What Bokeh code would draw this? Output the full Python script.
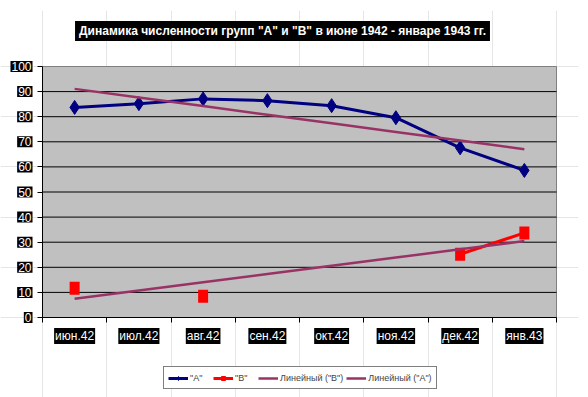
import numpy as np
from bokeh.plotting import figure
from bokeh.models import Range1d, FixedTicker, Label, Legend, LegendItem, LinearAxis
from bokeh.embed import file_html
from bokeh.resources import INLINE

# ---- data ----
months = ["июн.42", "июл.42", "авг.42", "сен.42", "окт.42", "ноя.42", "дек.42", "янв.43"]
group_a = [83.7, 85.2, 87.1, 86.4, 84.4, 79.6, 67.6, 58.6]
group_b = [11.7, np.nan, 8.5, np.nan, np.nan, np.nan, 25.2, 33.7]
y_ticks = [0, 10, 20, 30, 40, 50, 60, 70, 80, 90, 100]
title_text = 'Динамика численности групп "А" и "В" в июне 1942 - январе 1943 гг.'

FONT = "Liberation Sans"

n = len(months)
xs = np.arange(n) + 0.5
xi = np.arange(1, n + 1)

# linear trend lines (least squares, as Excel does)
a_arr = np.array(group_a, dtype=float)
b_arr = np.array(group_b, dtype=float)
ka = np.polyfit(xi, a_arr, 1)
mb = ~np.isnan(b_arr)
kb = np.polyfit(xi[mb], b_arr[mb], 1)
trend_a = np.polyval(ka, xi)
trend_b = np.polyval(kb, xi)

# ---- layout (canvas pixels) ----
W, H = 588, 397
BORDER_R, BORDER_T = 10, 10
PL, PR, PT, PB = 42, 556, 66, 317          # plot area in canvas pixels
FW, FH = W - BORDER_R, H - BORDER_T         # frame size
ux = (PR - PL) / n
uy = (PB - PT) / (y_ticks[-1] - y_ticks[0])
x_rng = Range1d(-PL / ux, n + (FW - PR) / ux)
y_rng = Range1d(y_ticks[0] - (H - PB) / uy, y_ticks[-1] + (PT - BORDER_T) / uy)

p = figure(width=W, height=H, output_backend="svg", toolbar_location=None,
           x_range=x_rng, y_range=y_rng, x_axis_location=None, y_axis_location=None,
           min_border_left=0, min_border_bottom=0,
           min_border_right=BORDER_R, min_border_top=BORDER_T)
p.background_fill_color = "white"
p.border_fill_color = "white"
p.outline_line_color = None

# plot area background and grid lines
p.quad(left=0, right=n, bottom=y_ticks[0], top=y_ticks[-1],
       fill_color="#c0c0c0", line_color="#808080", line_width=1)
gy = y_ticks[1:-1]
p.segment(x0=[0] * len(gy), x1=[n] * len(gy), y0=gy, y1=gy, line_color="black", line_width=1)

# axes (library axes fixed at the plot-area edges)
yax = LinearAxis(fixed_location=0, ticker=FixedTicker(ticks=y_ticks), bounds=(y_ticks[0], y_ticks[-1]))
xax = LinearAxis(fixed_location=0, ticker=FixedTicker(ticks=list(range(n + 1))), bounds=(0, n))
for ax in (xax, yax):
    ax.major_tick_in = 5
    ax.major_tick_out = 0
    ax.minor_tick_line_color = None
    ax.axis_line_color = "black"
    ax.major_tick_line_color = "black"
    ax.major_label_text_font_size = "0px"
    ax.major_label_standoff = 0
yax.major_label_overrides = {t: "" for t in y_ticks}
xax.major_label_overrides = {t: "" for t in range(n + 1)}
p.add_layout(yax, "right")
p.add_layout(xax, "above")

# series A
ra = p.line(xs, group_a, line_color="#000080", line_width=3)
ra_m = p.scatter(xs, group_a, marker="diamond", size=14, fill_color="#000080", line_color="#000080")
# series B
rb = p.line(xs, group_b, line_color="#ff0000", line_width=3)
rb_leg = p.scatter(xs, group_b, marker="square", size=7, fill_color="#ff0000", line_color="#ff0000")
p.rect(xs, group_b, width=10, height=13, width_units="screen", height_units="screen",
       fill_color="#ff0000", line_color=None)
# trend lines
tb = p.line(xs, trend_b, line_color="#993366", line_width=2.5)
ta = p.line(xs, trend_a, line_color="#993366", line_width=2.5)

legend = Legend(items=[
    LegendItem(label='"А"', renderers=[ra, ra_m]),
    LegendItem(label='"В"', renderers=[rb, rb_leg]),
    LegendItem(label='Линейный ("В")', renderers=[tb]),
    LegendItem(label='Линейный ("А")', renderers=[ta]),
], orientation="horizontal", location=(163, 8))
legend.label_text_font = FONT
legend.label_text_font_size = "9px"
legend.glyph_width = 20
legend.glyph_height = 10
legend.label_standoff = 2
legend.spacing = 3
legend.padding = 4
legend.margin = 0
legend.label_height = 13
legend.border_line_color = "black"
legend.border_line_width = 1
legend.background_fill_color = "white"
legend.background_fill_alpha = 1
p.add_layout(legend, "center")

# tick labels with black boxes
for i, m in enumerate(months):
    p.add_layout(Label(x=xs[i], y=0, y_offset=-18.5, text=m, text_align="center",
                       text_baseline="middle", text_color="white", text_font=FONT,
                       text_font_size="12px", background_fill_color="black",
                       background_fill_alpha=1, padding=1))
for t in y_ticks:
    p.add_layout(Label(x=0, y=t, x_offset=-10, text=str(t), text_align="right",
                       text_baseline="middle", text_color="white", text_font=FONT,
                       text_font_size="12px", background_fill_color="black",
                       background_fill_alpha=1, padding=1))

# title
p.add_layout(Label(x=n / 2, y=y_ticks[-1], x_offset=-17, y_offset=35.5, text=title_text,
                   text_align="center", text_baseline="middle", text_color="white",
                   text_font=FONT, text_font_size="12px", text_font_style="bold",
                   background_fill_color="black", background_fill_alpha=1, padding=(4, 3)))

open("out.html", "w").write(file_html(p, INLINE))
